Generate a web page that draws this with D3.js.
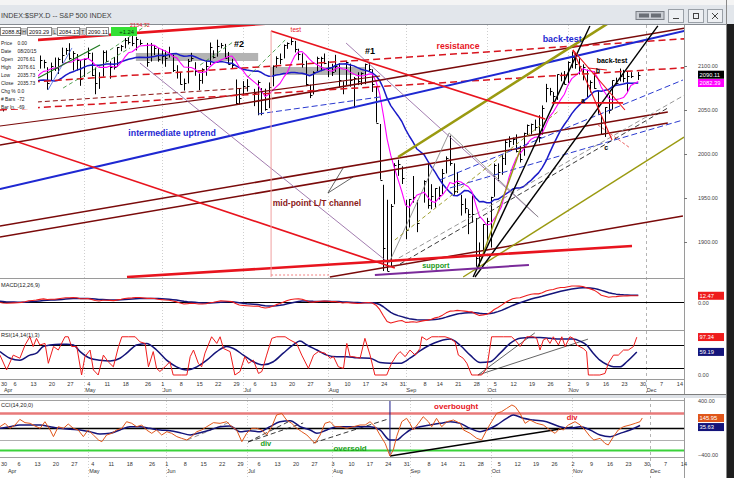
<!DOCTYPE html>
<html>
<head>
<meta charset="utf-8">
<title>S&amp;P 500 INDEX</title>
<script src="https://cdn.jsdelivr.net/npm/d3@7"></script>
<style>
  body { margin: 0; background: #fff; }
  svg { display: block; font-family: "Liberation Sans", Arial, sans-serif; }
</style>
</head>
<body>
<svg id="chart" width="734" height="478"></svg>
<script>
// ---------------- data ----------------
// closes before the visible range, only used to warm up the averages / MACD
var warmDates = ["2/2","2/3","2/4","2/5","2/6","2/9","2/10","2/11","2/12","2/13","2/17","2/18","2/19","2/20","2/23","2/24","2/25","2/26","2/27",
  "3/2","3/3","3/4","3/5","3/6","3/9","3/10","3/11","3/12","3/13","3/16","3/17","3/18","3/19","3/20","3/23","3/24","3/25","3/26","3/27","3/30","3/31"];
var warmCloses = [2020.85,2050.03,2041.51,2062.52,2055.47,2046.74,2068.59,2068.53,2088.48,2096.99,2100.34,2099.68,2097.45,2110.30,2109.66,2115.48,2113.86,2110.74,2104.50,
  2117.39,2107.78,2098.53,2101.04,2071.26,2079.43,2044.16,2040.24,2065.95,2053.40,2081.19,2074.28,2099.50,2089.27,2108.10,2104.42,2091.50,2061.05,2056.15,2061.02,2086.24,2067.89];

var dates = [
  "4/1","4/2","4/6","4/7","4/8","4/9","4/10","4/13","4/14","4/15","4/16","4/17","4/20","4/21","4/22","4/23","4/24","4/27","4/28","4/29","4/30",
  "5/1","5/4","5/5","5/6","5/7","5/8","5/11","5/12","5/13","5/14","5/15","5/18","5/19","5/20","5/21","5/22","5/26","5/27","5/28","5/29",
  "6/1","6/2","6/3","6/4","6/5","6/8","6/9","6/10","6/11","6/12","6/15","6/16","6/17","6/18","6/19","6/22","6/23","6/24","6/25","6/26","6/29","6/30",
  "7/1","7/2","7/6","7/7","7/8","7/9","7/10","7/13","7/14","7/15","7/16","7/17","7/20","7/21","7/22","7/23","7/24","7/27","7/28","7/29","7/30","7/31",
  "8/3","8/4","8/5","8/6","8/7","8/10","8/11","8/12","8/13","8/14","8/17","8/18","8/19","8/20","8/21","8/24","8/25","8/26","8/27","8/28","8/31",
  "9/1","9/2","9/3","9/4","9/8","9/9","9/10","9/11","9/14","9/15","9/16","9/17","9/18","9/21","9/22","9/23","9/24","9/25","9/28","9/29","9/30",
  "10/1","10/2","10/5","10/6","10/7","10/8","10/9","10/12","10/13","10/14","10/15","10/16","10/19","10/20","10/21","10/22","10/23","10/26","10/27","10/28","10/29","10/30",
  "11/2","11/3","11/4","11/5","11/6","11/9","11/10","11/11","11/12","11/13","11/16","11/17","11/18","11/19","11/20","11/23","11/24","11/25","11/27"];
var highs = [
  2067.0,2072.2,2086.9,2089.8,2086.7,2093.3,2102.6,2107.0,2098.3,2111.9,2107.0,2098.6,2103.9,2109.6,2109.6,2120.9,2120.5,2125.9,2116.9,2113.6,2106.9,
  2108.4,2120.9,2115.2,2098.3,2092.9,2117.7,2117.7,2105.1,2110.2,2121.5,2123.9,2131.8,2133.0,2134.7,2133.2,2129.9,2126.2,2126.2,2122.8,2120.3,
  2119.2,2117.6,2121.9,2112.9,2100.9,2093.0,2085.7,2108.0,2115.0,2104.3,2091.5,2097.4,2106.8,2126.7,2117.8,2129.9,2126.2,2125.1,2116.0,2108.2,2084.7,2074.3,
  2082.8,2085.1,2074.0,2083.7,2074.9,2074.2,2081.3,2100.7,2111.0,2114.2,2124.4,2126.8,2132.8,2128.5,2119.6,2114.4,2106.0,2078.7,2094.0,2110.6,2110.5,2114.2,
  2105.7,2102.5,2112.7,2103.3,2082.6,2105.3,2102.7,2087.6,2092.9,2092.8,2102.7,2103.5,2096.2,2076.6,2034.1,1965.0,1948.0,1943.1,1989.6,1993.5,1986.0,
  1947.8,1948.9,1975.0,1947.8,1970.1,1988.6,1965.7,1961.1,1963.1,1983.0,1997.3,2020.9,1989.4,1979.6,1953.6,1949.5,1937.2,1952.9,1927.2,1899.5,1920.5,
  1927.2,1951.4,1989.2,1989.3,1999.4,2016.5,2020.1,2018.7,2022.3,2009.3,2024.2,2033.5,2034.5,2039.1,2044.0,2055.2,2079.7,2075.1,2070.4,2090.4,2092.5,2094.3,
  2105.2,2116.5,2114.6,2108.8,2101.9,2095.9,2083.7,2093.8,2072.4,2044.0,2053.2,2066.7,2083.6,2086.7,2097.1,2095.6,2094.1,2093.0,2093.3];
var lows = [
  2048.4,2057.3,2056.5,2076.1,2073.3,2074.3,2090.0,2092.0,2083.2,2097.0,2097.3,2073.0,2083.3,2094.4,2091.0,2103.2,2112.7,2107.0,2094.9,2094.8,2077.5,
  2087.6,2108.3,2088.5,2067.9,2074.0,2088.0,2104.6,2085.6,2096.0,2098.8,2116.8,2120.0,2124.5,2122.6,2117.7,2123.8,2099.2,2105.1,2112.3,2104.9,
  2102.5,2099.1,2109.6,2093.2,2085.7,2079.1,2072.1,2080.2,2105.1,2088.9,2072.5,2079.9,2088.9,2101.0,2108.6,2110.6,2120.0,2108.2,2101.8,2097.1,2056.3,2056.3,
  2066.4,2071.0,2054.4,2044.0,2044.0,2049.3,2052.1,2076.9,2098.1,2102.1,2108.6,2119.5,2123.7,2115.4,2106.6,2098.2,2077.1,2063.5,2067.7,2094.1,2094.1,2102.1,
  2087.3,2088.6,2093.3,2075.5,2067.9,2078.0,2076.5,2052.1,2078.3,2078.3,2079.3,2094.1,2070.5,2035.7,1970.9,1867.0,1867.1,1872.8,1942.9,1975.2,1965.9,
  1903.1,1916.5,1944.7,1911.2,1944.7,1937.9,1937.2,1939.2,1948.3,1954.4,1977.9,1986.7,1953.6,1955.8,1930.0,1932.6,1908.9,1922.0,1871.9,1871.9,1887.2,
  1900.7,1893.7,1951.4,1969.2,1976.4,1987.5,2007.6,2010.3,2001.8,1990.4,1998.0,2020.5,2022.3,2026.6,2013.2,2022.0,2058.8,2066.5,2058.8,2061.5,2082.6,2079.1,
  2080.8,2097.5,2096.9,2090.4,2083.7,2064.8,2069.9,2074.2,2045.7,2022.0,2019.4,2045.9,2050.4,2078.8,2082.5,2081.4,2070.3,2086.3,2084.1];
var closes = [
  2059.7,2067.0,2080.6,2076.3,2081.9,2091.2,2102.1,2092.4,2095.8,2106.6,2105.0,2081.2,2100.4,2097.3,2108.0,2112.9,2117.7,2108.9,2114.8,2106.9,2085.5,
  2108.3,2114.5,2089.5,2080.2,2088.0,2116.1,2105.3,2099.1,2098.5,2121.1,2122.7,2129.2,2127.8,2125.9,2130.8,2126.1,2104.2,2123.5,2120.8,2107.4,
  2111.7,2109.6,2114.1,2095.8,2092.8,2079.3,2080.2,2105.2,2108.9,2094.1,2084.4,2096.3,2100.4,2121.2,2110.0,2122.9,2124.2,2108.6,2102.3,2101.5,2057.6,2063.1,
  2077.4,2076.8,2068.8,2081.3,2046.7,2051.3,2076.6,2099.6,2109.0,2107.4,2124.3,2126.6,2128.3,2119.2,2114.2,2102.2,2079.7,2067.6,2093.3,2108.6,2108.6,2103.8,
  2098.0,2093.3,2099.8,2083.6,2077.6,2104.2,2084.1,2086.1,2083.4,2091.5,2102.4,2096.9,2079.6,2035.7,1970.9,1893.2,1867.6,1940.5,1987.7,1988.9,1972.2,
  1913.9,1948.9,1951.1,1921.2,1969.4,1942.0,1952.3,1961.1,1953.0,1978.1,1995.3,1990.2,1958.0,1967.0,1942.7,1938.8,1932.2,1931.3,1881.8,1884.1,1920.0,
  1923.8,1951.4,1987.1,1979.9,1995.8,2013.4,2014.9,2017.5,2003.7,1994.2,2023.9,2033.1,2033.7,2030.8,2018.9,2052.5,2075.2,2071.2,2065.9,2090.4,2089.4,2079.4,
  2104.1,2109.8,2102.3,2099.9,2099.2,2078.6,2081.7,2075.0,2046.0,2023.0,2053.2,2050.4,2083.6,2081.2,2089.2,2086.6,2089.1,2088.9,2090.1];

var fastLen = 8, slowLen = 20;        // magenta and blue moving averages
var macdLens = [12, 26, 9];

// oscillators: [weekday offset from 1 Apr 2015, value]
var stochRed = [[-0.8,51],[1.0,13],[2.8,51],[4.6,43],[6.0,77],[7.3,98],[8.2,73],[9.1,94],[10.0,77],[11.4,81],[12.3,30],[13.7,73],[15.0,64],[16.8,98],[17.7,98],[18.6,73],[20.0,73],[21.3,0],[22.2,47],[23.6,64],[24.5,13],[25.8,0],[27.2,51],[28.5,34],[29.9,21],[31.3,73],[32.2,98],[34.0,98],[35.8,98],[37.1,85],[38.5,81],[39.4,21],[40.7,60],[41.6,17],[42.5,9],[43.9,21],[45.2,34],[46.1,0],[48.4,0],[49.8,0],[50.7,47],[51.6,64],[52.9,30],[53.8,21],[54.7,56],[56.5,98],[57.9,81],[58.8,98],[59.7,68],[61.5,60],[62.8,0],[64.2,9],[65.5,47],[66.5,30],[67.8,38],[69.2,4],[70.1,9],[71.4,51],[72.8,94],[74.1,98],[76.4,98],[77.7,90],[79.5,81],[80.9,51],[82.7,17],[84.1,51],[85.4,60],[87.2,56],[88.6,43],[89.5,47],[90.8,21],[92.2,17],[93.1,81],[94.0,47],[94.9,47],[96.7,43],[98.0,94],[99.4,51],[100.7,0],[102.1,0],[103.9,0],[105.2,30],[106.6,51],[107.5,60],[108.9,47],[110.2,64],[111.6,51],[112.9,68],[113.4,98],[114.7,90],[116.1,98],[117.9,98],[119.7,98],[121.0,94],[122.4,85],[123.3,51],[124.6,43],[125.6,30],[126.9,0],[128.3,0],[129.6,0],[131.0,17],[132.3,98],[133.2,98],[135.5,98],[137.7,98],[139.1,85],[140.0,73],[141.8,98],[143.6,98],[144.5,94],[145.4,64],[146.3,90],[147.2,94],[148.1,81],[149.0,98],[150.4,77],[151.3,98],[152.2,73],[153.5,98],[154.4,94],[155.3,77],[157.1,68],[158.0,60],[158.5,0],[159.8,0],[161.6,0],[163.0,4],[163.9,30],[165.3,51],[166.6,51],[168.0,64],[169.3,64],[170.7,73],[171.6,97]];
var stochNavy = [[-0.8,60],[1.9,43],[4.6,38],[7.3,51],[9.1,56],[10.9,73],[12.8,77],[15.5,79],[17.3,79],[19.1,77],[20.9,60],[23.6,43],[26.3,38],[29.0,36],[31.7,43],[33.5,56],[36.2,77],[38.9,81],[41.6,64],[44.3,38],[47.0,21],[49.8,13],[52.5,21],[55.2,38],[57.9,60],[60.6,73],[62.4,68],[65.1,51],[67.8,34],[70.5,26],[73.2,34],[75.9,56],[78.6,77],[80.4,87],[82.3,77],[85.0,64],[87.7,51],[90.4,47],[93.1,47],[95.8,44],[99.4,43],[102.1,32],[104.8,30],[107.5,30],[110.2,43],[112.9,62],[115.6,77],[118.3,87],[121.0,92],[123.7,77],[126.5,51],[129.2,32],[131.9,34],[134.6,56],[137.3,81],[140.0,94],[142.7,96],[145.4,96],[148.1,94],[150.8,92],[154.4,92],[156.2,87],[158.0,77],[159.8,56],[161.6,38],[163.5,27],[165.3,21],[167.1,21],[168.9,34],[171.6,59]];
var cciLine = [[-1.9,19],[-0.5,68],[0.8,-5],[2.2,44],[3.5,126],[4.9,78],[6.3,68],[7.6,29],[9.0,-5],[10.3,92],[11.7,-29],[12.6,-126],[13.9,19],[15.3,-5],[16.6,58],[18.0,-5],[19.3,-29],[20.7,-126],[22.0,-29],[23.4,-102],[24.8,-175],[25.7,-200],[27.0,-102],[28.4,-78],[29.7,-29],[31.1,-5],[32.4,92],[33.8,68],[35.1,19],[36.5,44],[37.8,-29],[39.2,-78],[40.5,-29],[41.9,-102],[43.3,-54],[44.6,-78],[46.0,-126],[47.3,-151],[48.7,-175],[50.0,-126],[51.4,-54],[52.7,-29],[54.1,19],[55.9,78],[57.7,68],[59.5,92],[60.9,19],[62.2,-29],[63.6,-200],[64.9,-78],[66.3,-5],[67.6,-5],[69.0,-29],[70.3,-102],[71.7,19],[73.0,190],[74.4,214],[75.7,117],[77.1,68],[78.5,-5],[79.8,-54],[81.2,-102],[82.5,-175],[83.4,-224],[84.8,-102],[86.1,68],[87.5,92],[88.8,19],[90.2,19],[92.0,-5],[93.8,19],[95.6,44],[97.0,44],[98.3,92],[99.7,19],[101.0,-102],[102.4,-224],[103.7,-409],[104.6,-321],[105.5,-126],[106.9,92],[108.2,141],[109.1,68],[110.0,-29],[111.4,68],[112.7,165],[114.1,92],[115.0,19],[116.3,141],[117.7,19],[119.1,92],[120.9,117],[122.7,68],[123.6,-29],[125.4,-78],[127.2,-151],[128.5,-175],[129.9,-29],[131.2,92],[132.6,214],[133.9,238],[135.3,287],[136.7,336],[137.6,311],[138.9,214],[140.3,68],[141.6,117],[143.4,68],[145.2,44],[147.0,-29],[148.4,-78],[149.7,-5],[150.6,-29],[152.0,44],[153.8,92],[155.2,44],[156.5,-29],[157.9,-126],[158.9,-175],[160.6,-151],[161.9,-224],[162.8,-248],[164.2,-126],[165.5,-29],[166.9,19],[168.7,44],[170.1,68],[171.4,92],[172.0,146]];
var cciAvg = [[-1.9,-5],[0.8,19],[3.5,44],[6.3,44],[9.0,44],[11.7,19],[14.4,-5],[17.1,-20],[19.8,-29],[22.5,-54],[25.2,-88],[27.9,-78],[30.6,-29],[33.3,19],[36.0,19],[38.7,-5],[41.5,-29],[44.2,-39],[46.9,-68],[49.6,-102],[52.3,-68],[55.0,-29],[57.7,19],[60.4,29],[63.1,-54],[65.8,-39],[68.5,-54],[71.2,19],[73.9,92],[76.7,107],[79.4,19],[82.1,-29],[83.9,-78],[86.6,-29],[89.3,19],[92.0,19],[95.6,19],[98.3,19],[101.0,-29],[103.7,-175],[105.5,-175],[107.3,-102],[109.1,-29],[111.8,19],[114.5,44],[117.3,68],[120.0,92],[122.7,68],[125.4,-5],[128.1,-54],[129.9,-29],[132.6,44],[135.3,141],[137.1,190],[139.8,141],[142.5,117],[146.1,92],[149.7,19],[152.5,-5],[155.2,19],[157.9,-29],[160.6,-102],[163.3,-126],[166.0,-78],[168.7,-29],[171.4,36]];

var priceTicks = [1900, 1950, 2000, 2050, 2100];
var stochLevels = [77, 18];
var cciLevels = [225, 0, -175, -320];
var cciTicks = [400, -400];
var weekTicks = ["3/30","4/6","4/13","4/20","4/27","5/4","5/11","5/18","5/26","6/1","6/8","6/15","6/22","6/29","7/6","7/13","7/20","7/27",
  "8/3","8/10","8/17","8/24","8/31","9/8","9/14","9/21","9/28","10/5","10/12","10/19","10/26","11/2","11/9","11/16","11/23","11/30","12/7","12/14"];
var monthTicks = [["4/1","Apr"],["5/1","May"],["6/1","Jun"],["7/1","Jul"],["8/3","Aug"],["9/1","Sep"],["10/1","Oct"],["11/2","Nov"],["12/1","Dec"]];

var infoLabels = ["Price","Date","Open","High","Low","Close","Chg %","# Bars","Bar In."];
var infoValues = ["0.00","08/20/15","2076.61","2076.61","2035.73","2035.73","0.0","-72","-69"];
var quoteValues = ["2088.82","2093.29","2084.13","2090.11"];
var quoteTags = ["H","L","T"];
var changeText = "+1.24";
var lastPrice = 2090.11, lastFast = 2082.39, lastMacd = 12.47;
var lastStoch = [97.34, 59.19], lastCci = [145.95, 35.63];

// drawn trendlines: [kind, w1, price1, w2, price2]
var trendLines = [
  ["maroon", -0.8, 2010.2, 187.9, 2145.5],
  ["maroon", -0.8, 1918.2, 180.0, 2047.7],
  ["maroon", -0.8, 1905.7, 180.0, 2035.2],
  ["maroon", 88.5, 1860.2, 184.1, 1929.5],
  ["maroonThin", -0.8, 2031.8, 102.1, 2088.6],
  ["maroonDash", 9.2, 2059.1, 66.1, 2075.0],
  ["redDash", -0.8, 2079.5, 187.9, 2131.8],
  ["redDash", -0.8, 2050.0, 187.9, 2098.9],
  ["blue", -0.8, 1960.2, 187.9, 2143.2],
  ["blueDash", 69.1, 2045.5, 102.1, 2064.8],
  ["blueDash", 118.3, 1970.5, 184.1, 2084.1],
  ["blueDash", 121.0, 1961.4, 184.1, 2038.6],
  ["blueThin", 12.2, 2072.7, 18.7, 2120.5],
  ["purple", 37.1, 2103.4, 104.5, 1876.1],
  ["purple", 92.9, 2126.1, 144.9, 1928.4],
  ["gray", 104.5, 1876.1, 120.8, 2023.9],
  ["gray", 120.8, 2023.9, 144.9, 1928.4],
  ["grayDash", 105.3, 1877.3, 186.0, 2070.5],
  ["blackDash", 107.5, 1875.0, 180.0, 2052.3],
  ["oliveDash", 106.1, 1902.3, 150.8, 2050.0],
  ["oliveThick", 107.0, 1996.6, 164.4, 2150.0],
  ["olive", 124.6, 1860.2, 184.4, 2019.3],
  ["olive", 129.2, 1877.3, 140.0, 2004.5],
  ["black", 127.3, 1860.2, 158.9, 2145.5],
  ["black", 127.8, 1860.2, 177.3, 2145.5],
  ["redThick", -0.8, 2126.5, 75.3, 2149.3],
  ["redThick", 33.6, 1860.2, 170.3, 1895.5],
  ["red", 72.6, 2139.8, 146.8, 2039.8],
  ["red", -0.8, 2020.5, 106.1, 1870.5],
  ["violet", 100.7, 1862.5, 142.4, 1873.9],
  ["redThin", 154.3, 2118.2, 168.4, 2050.0],
  ["redThin", 154.3, 2118.2, 164.9, 2015.9],
  ["red", 148.6, 2058.0, 167.9, 2058.0],
  ["redThin", 158.4, 2097.7, 163.5, 2095.5],
  ["redDot", 161.1, 2033.0, 169.8, 2006.8],
  ["green", 9.5, 2086.4, 26.3, 2123.9],
  ["greenDash", 16.3, 2075.0, 34.4, 2120.5],
  ["greenDash", 29.0, 2118.2, 39.0, 2146.6],
  ["greenDash", 53.4, 2101.1, 62.3, 2127.3],
  ["greenDash", 66.3, 2087.5, 76.4, 2129.5],
  ["blackThin", 88.0, 1955.7, 92.1, 1984.1],
  ["blackThin", 88.0, 1955.7, 94.8, 1973.9],
  ["pink", 72.6, 2139.8, 72.6, 1860.2],
  ["pinkDot", 72.6, 1862.5, 88.5, 1862.5]
];
// gray resistance zones: [w1, w2, priceLow, priceHigh]
var zones = [[36.0, 69.1, 2105.7, 2114.8], [72.3, 98.0, 2089.8, 2098.9]];
var notes = [
  ["tinyRed", 37.1, 2144.3, "2134.72"],
  ["tiny", 79.3, 2138.6, "test"],
  ["num", 63.9, 2121.6, "#2"],
  ["num", 99.4, 2113.6, "#1"],
  ["red", 123.2, 2119.3, "resistance"],
  ["blue", 151.4, 2127.3, "back-test"],
  ["small", 164.9, 2103.4, "back-test"],
  ["small", 161.1, 2092.0, "b"],
  ["small", 157.0, 2058.0, "a"],
  ["small", 163.3, 2004.5, "c"],
  ["blueBig", 45.8, 2020.5, "intermediate uptrend"],
  ["maroonBig", 85.0, 1940.9, "mid-point L/T channel"],
  ["green", 117.2, 1870.5, "support"]
];
var stochLines = [["blackThin", 128.6, 0, 144.0, 108], ["blackThin", 128.6, 0, 158.4, 92]];
var cciLines = [
  ["navy", 103.7, -400, 103.7, 400],
  ["black", 103.7, -409, 153.2, 15],
  ["blackDash", 65.3, -204, 80.2, 73],
  ["blackDash", 65.3, -204, 76.6, 102],
  ["blackDash", 82.9, -219, 103.2, 131],
  ["grayDash", 48.8, -175, 60.4, 88]
];
var cciNotes = [
  ["redB", 121.6, 277, "overbought"],
  ["redS", 153.0, 117, "div"],
  ["greenS", 70.1, -263, "div"],
  ["greenB", 92.9, -336, "oversold"]
];

// ---------------- styles ----------------
var lineStyle = {
  redThick: ["#e8141e", 2.6, null], red: ["#e8141e", 1.7, null], redThin: ["#e8141e", 1.1, null],
  redDash: ["#d8141e", 1.5, "7,4"], redDot: ["#e85050", 0.9, "3,2"],
  maroon: ["#7a0a0a", 1.5, null], maroonThin: ["#7a0a0a", 1.1, null], maroonDash: ["#8a1010", 1.0, "5,3"],
  blue: ["#1e28d2", 2, null], blueDash: ["#2a3ad0", 1, "6,3"], blueThin: ["#4060e0", 0.8, null],
  purple: ["#8a5a9a", 0.8, null], violet: ["#7a2a9a", 2, null],
  oliveThick: ["#9a9a10", 2.6, null], olive: ["#9a9a10", 1.4, null], oliveDash: ["#a0a030", 1, "4,3"],
  black: ["#000", 1.4, null], blackThin: ["#222", 0.7, null], blackDash: ["#222", 0.9, "5,3"],
  gray: ["#8c8c8c", 0.9, null], grayDash: ["#8c8c8c", 0.9, "5,3"],
  green: ["#1e7a1e", 1.2, null], greenDash: ["#2a8a2a", 0.8, "4,3"],
  pink: ["#f0a0a0", 1, null], pinkDot: ["#f08080", 1, "2,2"], navy: ["#1a1a8a", 1, null]
};
var noteStyle = {
  tinyRed: ["#e8141e", 5.5, "normal"], tiny: ["#e8141e", 6.5, "normal"], num: ["#000", 9, "bold"],
  red: ["#e8141e", 8.7, "bold"], blue: ["#1e28d2", 8.9, "bold"], small: ["#000", 7, "bold"],
  blueBig: ["#1e28d2", 8.8, "bold"], maroonBig: ["#8b1a1a", 8.5, "bold"], green: ["#1a9a1a", 7.3, "bold"],
  redB: ["#e8141e", 8, "bold"], redS: ["#e8141e", 7.5, "bold"], greenB: ["#1aa01a", 8, "bold"], greenS: ["#1aa01a", 7.5, "bold"]
};

// ---------------- helpers ----------------
var svg = d3.select("#chart");
var PR = 684; // right edge of the plotting area

function md(s) { var p = s.split("/"); return new Date(2015, +p[0] - 1, +p[1]); }
var monday0 = new Date(2015, 2, 30);
// weekday offset from Wed 1 Apr 2015
function wd(s) {
  var n = d3.timeDay.count(monday0, md(s));
  var wk = Math.floor(n / 7), dow = n - wk * 7;
  return wk * 5 + Math.min(dow, 5) - 2;
}

var xT = d3.scaleLinear().domain([0, 173]).range([2.9, 641.96]);
var xB = d3.scaleLinear().domain([0, 173]).range([6.9, 645.96]);
var yP = d3.scaleLinear().domain([1860, 2150]).range([277.2, 22]);
var yM = d3.scaleLinear().domain([-50, 50]).range([327, 277]);
var yR = d3.scaleLinear().domain([0, 100]).range([375, 336]);
var yC = d3.scaleLinear().domain([-400, 400]).range([455.4, 400.6]);

function snap(v) { return Math.round(v) + 0.5; }

function sma(arr, n) {
  return arr.map(function (c, i) { return i < n - 1 ? null : d3.mean(arr.slice(i - n + 1, i + 1)); });
}
function ema(arr, n) {
  var k = 2 / (n + 1), prev, out = [];
  arr.forEach(function (v, i) { prev = i === 0 ? v : v * k + prev * (1 - k); out.push(prev); });
  return out;
}

function drawSegs(g, data, x, y) {
  g.selectAll(null).data(data).join("line")
    .attr("x1", function (d) { return x(d[1]); }).attr("y1", function (d) { return y(d[2]); })
    .attr("x2", function (d) { return x(d[3]); }).attr("y2", function (d) { return y(d[4]); })
    .attr("stroke", function (d) { return lineStyle[d[0]][0]; })
    .attr("stroke-width", function (d) { return lineStyle[d[0]][1]; })
    .attr("stroke-dasharray", function (d) { return lineStyle[d[0]][2]; })
    .attr("fill", "none");
}
function drawNotes(g, data, x, y) {
  g.selectAll(null).data(data).join("text")
    .attr("x", function (d) { return x(d[1]); }).attr("y", function (d) { return y(d[2]); })
    .attr("text-anchor", "middle")
    .attr("fill", function (d) { return noteStyle[d[0]][0]; })
    .attr("font-size", function (d) { return noteStyle[d[0]][1]; })
    .attr("font-weight", function (d) { return noteStyle[d[0]][2]; })
    .text(function (d) { return d[3]; });
}
function path(g, pts, x, y, color, width, curve) {
  g.append("path").datum(pts)
    .attr("d", d3.line().defined(function (d) { return d[1] != null; })
      .x(function (d) { return x(d[0]); }).y(function (d) { return y(d[1]); })
      .curve(curve || d3.curveLinear))
    .attr("fill", "none").attr("stroke", color).attr("stroke-width", width).attr("stroke-linejoin", "round");
}
function valueBox(y, text, fill, color) {
  svg.append("rect").attr("x", 698).attr("y", y - 4).attr("width", 26).attr("height", 8).attr("fill", fill);
  svg.append("text").attr("x", 699.5).attr("y", y + 2).attr("font-size", 5.8).attr("fill", color).text(text);
}
function sideText(y, text) {
  svg.append("text").attr("x", 698).attr("y", y + 2).attr("font-size", 5.5).attr("fill", "#444").text(text);
}

// ---------------- frame ----------------
svg.append("rect").attr("width", 734).attr("height", 478).attr("fill", "#fff");
svg.append("rect").attr("width", 734).attr("height", 24).attr("fill", "#e2e6eb");
svg.append("rect").attr("width", 734).attr("height", 5).attr("fill", "#f4f4f4");
svg.append("line").attr("x1", 0).attr("x2", 734).attr("y1", 24.5).attr("y2", 24.5).attr("stroke", "#868b91");
svg.append("text").attr("x", 1).attr("y", 17.5).attr("font-size", 7.2).attr("fill", "#3c3c3c")
  .text("INDEX:$SPX.D -- S&P 500 INDEX");
// window buttons
svg.append("rect").attr("x", 636).attr("y", 11.5).attr("width", 28).attr("height", 8).attr("fill", "#c9cdd3").attr("stroke", "#7a7f86");
svg.append("rect").attr("x", 639).attr("y", 13.5).attr("width", 10).attr("height", 4).attr("fill", "#6a6f76");
svg.append("rect").attr("x", 651).attr("y", 13.5).attr("width", 10).attr("height", 4).attr("fill", "#6a6f76");
[668, 688, 707].forEach(function (bx, i) {
  svg.append("rect").attr("x", bx + 0.5).attr("y", 9.5).attr("width", 15).attr("height", 13).attr("fill", "#eef0f3").attr("stroke", "#9aa0a7");
  if (i === 0) svg.append("line").attr("x1", bx + 5).attr("x2", bx + 11).attr("y1", 18.5).attr("y2", 18.5).attr("stroke", "#444");
  if (i === 1) svg.append("rect").attr("x", bx + 5.5).attr("y", 13.5).attr("width", 5).attr("height", 5).attr("fill", "none").attr("stroke", "#444");
  if (i === 2) {
    svg.append("line").attr("x1", bx + 5).attr("x2", bx + 11).attr("y1", 13).attr("y2", 19).attr("stroke", "#444");
    svg.append("line").attr("x1", bx + 11).attr("x2", bx + 5).attr("y1", 13).attr("y2", 19).attr("stroke", "#444");
  }
});

var defs = svg.append("defs");
function addClip(id, y0, y1) {
  defs.append("clipPath").attr("id", id).append("rect").attr("x", 0).attr("y", y0).attr("width", PR).attr("height", y1 - y0);
}
addClip("cP", 25, 278); addClip("cM", 279, 330); addClip("cR", 331, 379); addClip("cC", 401, 457.5);

// month grid lines
monthTicks.slice(1).forEach(function (m) {
  var last = m[1] === "Dec";
  [[xT, 25, 393], [xB, 398, 478]].forEach(function (s) {
    svg.append("line").attr("x1", snap(s[0](wd(m[0])))).attr("x2", snap(s[0](wd(m[0]))))
      .attr("y1", s[1]).attr("y2", s[2])
      .attr("stroke", last ? "#b4b4b4" : "#cfcfcf").attr("stroke-dasharray", last ? "3,3" : "1,2");
  });
});

// panel separators
[278.5, 330.5, 379.5].forEach(function (y) {
  svg.append("line").attr("x1", 0).attr("x2", PR).attr("y1", y).attr("y2", y).attr("stroke", "#9a9a9a");
});
svg.append("line").attr("x1", PR + 0.5).attr("x2", PR + 0.5).attr("y1", 25).attr("y2", 478).attr("stroke", "#9a9a9a");

// ---------------- price panel ----------------
var gP = svg.append("g").attr("clip-path", "url(#cP)");
gP.selectAll(null).data(zones).join("rect")
  .attr("x", function (d) { return xT(d[0]); }).attr("width", function (d) { return xT(d[1]) - xT(d[0]); })
  .attr("y", function (d) { return yP(d[3]); }).attr("height", function (d) { return yP(d[2]) - yP(d[3]); })
  .attr("fill", "#b3b3b3");

var bars = dates.map(function (d, i) { return { w: wd(d), h: highs[i], l: lows[i], c: closes[i] }; });
gP.selectAll(null).data(bars).join("line")
  .attr("x1", function (d) { return snap(xT(d.w)); }).attr("x2", function (d) { return snap(xT(d.w)); })
  .attr("y1", function (d) { return yP(d.h); }).attr("y2", function (d) { return yP(d.l); })
  .attr("stroke", "#000").attr("stroke-width", 1);
gP.selectAll(null).data(bars).join("line")
  .attr("x1", function (d) { return snap(xT(d.w)); }).attr("x2", function (d) { return snap(xT(d.w)) + 2; })
  .attr("y1", function (d) { return snap(yP(d.c)); }).attr("y2", function (d) { return snap(yP(d.c)); })
  .attr("stroke", "#000").attr("stroke-width", 1);

var allDates = warmDates.concat(dates), allCloses = warmCloses.concat(closes);
var allW = allDates.map(wd);
var fastMa = sma(allCloses, fastLen), slowMa = sma(allCloses, slowLen);
path(gP, allW.map(function (w, i) { return [w, slowMa[i]]; }), xT, yP, "#1a1ac8", 1.5);
path(gP, allW.map(function (w, i) { return [w, fastMa[i]]; }), xT, yP, "#ff00ff", 1.1);

drawSegs(gP, trendLines, xT, yP);
drawNotes(svg, notes, xT, yP);

// info panel and quote strip
svg.append("rect").attr("x", 0).attr("y", 37).attr("width", 38).attr("height", 72).attr("fill", "#fff");
infoLabels.forEach(function (t, i) {
  svg.append("text").attr("x", 1).attr("y", 45 + i * 8).attr("font-size", 4.9).attr("fill", "#222").text(t);
  svg.append("text").attr("x", 17.5).attr("y", 45 + i * 8).attr("font-size", 4.9).attr("fill", "#222").text(infoValues[i]);
});
var qBox = [[0, 20], [27, 24], [57, 22], [86, 22]];
quoteValues.forEach(function (t, i) {
  svg.append("rect").attr("x", qBox[i][0] + 0.5).attr("y", 27.5).attr("width", qBox[i][1]).attr("height", 8)
    .attr("fill", "#fff").attr("stroke", "#8a8a8a");
  svg.append("text").attr("x", qBox[i][0] + 2).attr("y", 33.8).attr("font-size", 5.6).attr("fill", "#111").text(t);
  if (i < 3) {
    var tx = qBox[i][0] + qBox[i][1] + 1;
    svg.append("rect").attr("x", tx + 0.5).attr("y", 28.5).attr("width", 5).attr("height", 6).attr("fill", "#d9d9d9").attr("stroke", "#8a8a8a").attr("stroke-width", 0.5);
    svg.append("text").attr("x", tx + 1.3).attr("y", 33.6).attr("font-size", 5).attr("fill", "#222").text(quoteTags[i]);
  }
});
svg.append("rect").attr("x", 111).attr("y", 27).attr("width", 26).attr("height", 9).attr("fill", "#34e034");
svg.append("text").attr("x", 134).attr("y", 33.8).attr("text-anchor", "end").attr("font-size", 5.8).attr("fill", "#0a3a0a").text(changeText);

// price axis
svg.append("g").attr("transform", "translate(" + PR + ",0)")
  .call(d3.axisRight(yP).tickValues(priceTicks).tickFormat(d3.format(".2f")).tickSize(3).tickPadding(11))
  .call(function (g) {
    g.select(".domain").remove();
    g.selectAll("line").attr("stroke", "#777");
    g.selectAll("text").attr("font-size", 5.5).attr("fill", "#444").attr("font-family", "Liberation Sans, Arial, sans-serif");
  });
valueBox(yP(lastPrice), "2090.11", "#000", "#fff");
valueBox(yP(lastFast) + 1.5, "2082.39", "#ff00ff", "#fff");

// ---------------- MACD panel ----------------
var gM = svg.append("g").attr("clip-path", "url(#cM)");
gM.append("line").attr("x1", 0).attr("x2", PR).attr("y1", snap(yM(0))).attr("y2", snap(yM(0))).attr("stroke", "#000");
var e1 = ema(allCloses, macdLens[0]), e2 = ema(allCloses, macdLens[1]);
var macd = e1.map(function (v, i) { return v - e2[i]; });
var signal = ema(macd, macdLens[2]);
path(gM, allW.map(function (w, i) { return [w, signal[i]]; }), xT, yM, "#14147a", 1.5);
path(gM, allW.map(function (w, i) { return [w, macd[i]]; }), xT, yM, "#ee1c1c", 1.1);
svg.append("text").attr("x", 1).attr("y", 287).attr("font-size", 5.6).attr("fill", "#222").text("MACD(12,26,9)");
valueBox(yM(lastMacd), "12.47", "#ee1c1c", "#fff");
sideText(yM(0) + 1, "0.00");

// ---------------- stochastic RSI panel ----------------
var gR = svg.append("g").attr("clip-path", "url(#cR)");
stochLevels.forEach(function (v) {
  gR.append("line").attr("x1", 0).attr("x2", PR).attr("y1", snap(yR(v))).attr("y2", snap(yR(v))).attr("stroke", "#000");
});
drawSegs(gR, stochLines, xT, yR);
path(gR, stochNavy, xT, yR, "#14147a", 1.5, d3.curveMonotoneX);
path(gR, stochRed, xT, yR, "#ee1c1c", 1);
svg.append("text").attr("x", 1).attr("y", 337).attr("font-size", 5.6).attr("fill", "#222").text("RSI(14,14(1),3)");
valueBox(yR(lastStoch[0]), "97.34", "#ee1c1c", "#fff");
valueBox(yR(lastStoch[1]), "59.19", "#14147a", "#fff");
sideText(yR(0), "0.00");

// date axis rows
function dateAxis(x, yDay, yMon, dx) {
  weekTicks.forEach(function (t) {
    svg.append("text").attr("x", Math.max(x(wd(t)) + dx, 4)).attr("y", yDay).attr("text-anchor", "middle")
      .attr("font-size", 5.5).attr("fill", "#333").text(t.split("/")[1]);
  });
  monthTicks.forEach(function (m) {
    svg.append("text").attr("x", x(wd(m[0])) + 1).attr("y", yMon)
      .attr("font-size", 5.5).attr("fill", "#333").text(m[1]);
  });
}
dateAxis(xT, 385.5, 391.5, 1);

// ---------------- lower window ----------------
svg.append("line").attr("x1", 0).attr("x2", 727).attr("y1", 394.5).attr("y2", 394.5).attr("stroke", "#7d7d7d");
svg.append("rect").attr("x", 0).attr("y", 395).attr("width", 727).attr("height", 3).attr("fill", "#dde1e6");
var gC = svg.append("g").attr("clip-path", "url(#cC)");
var levelColor = ["#e87a7a", "#000", "#b0b0b0", "#3ad23a"], levelWidth = [2.5, 1.3, 1, 2];
cciLevels.forEach(function (v, i) {
  gC.append("line").attr("x1", 0).attr("x2", PR).attr("y1", snap(yC(v))).attr("y2", snap(yC(v)))
    .attr("stroke", levelColor[i]).attr("stroke-width", levelWidth[i]);
});
drawSegs(gC, cciLines, xB, yC);
path(gC, cciAvg, xB, yC, "#14147a", 1.5, d3.curveMonotoneX);
path(gC, cciLine, xB, yC, "#e0561a", 1);
drawNotes(svg, cciNotes, xB, yC);
[400.5, 457.5].forEach(function (y) {
  svg.append("line").attr("x1", 0).attr("x2", PR).attr("y1", y).attr("y2", y).attr("stroke", "#a0a0a0");
});
svg.append("text").attr("x", 1).attr("y", 407).attr("font-size", 5.6).attr("fill", "#222").text("CCI(14,20,0)");
cciTicks.forEach(function (v) { sideText(yC(v), d3.format(".2f")(v)); });
valueBox(yC(lastCci[0]), "145.95", "#e0561a", "#fff");
valueBox(yC(lastCci[1]) + 1.5, "35.63", "#14147a", "#fff");
dateAxis(xB, 466, 472.5, 1);

// right window edge
svg.append("rect").attr("x", 727).attr("y", 24).attr("width", 7).attr("height", 454).attr("fill", "#1e1e1e");
svg.append("line").attr("x1", 726.5).attr("x2", 726.5).attr("y1", 0).attr("y2", 478).attr("stroke", "#8a8a8a");
</script>
</body>
</html>
